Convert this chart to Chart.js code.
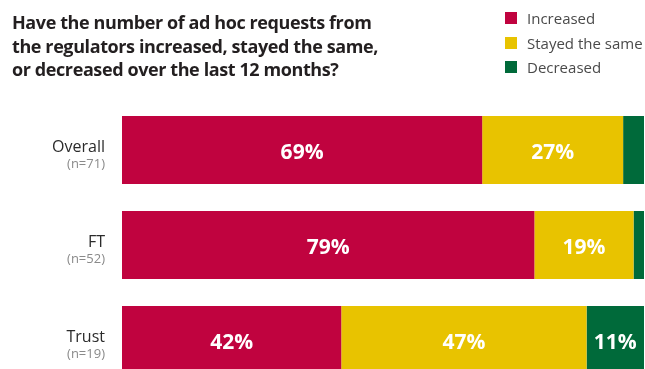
<!DOCTYPE html>
<html>
<head>
<meta charset="utf-8">
<script src="https://cdn.jsdelivr.net/npm/chart.js@4/dist/chart.umd.min.js"></script>
<style>
  html, body { margin: 0; padding: 0; background: #fff; overflow: hidden; }
  #wrap { position: relative; width: 645px; height: 390px; }
  #title {
    position: absolute; left: 12px; top: 11px;
    font-family: "Open Sans", sans-serif; font-weight: 700;
    font-size: 18px; line-height: 23.5px; color: #231f20;
    letter-spacing: -0.4px; white-space: nowrap;
  }
  #legend { position: absolute; left: 505px; top: 6px; font-family: "Open Sans", sans-serif; }
  #legend .item { display: flex; align-items: center; height: 24.5px; font-size: 15px; color: #4a4a4a; }
  #legend .sw { width: 12px; height: 12px; margin-right: 10px; }
  #chartBox { position: absolute; left: 0; top: 0; width: 645px; height: 390px; }
</style>
</head>
<body>
<div id="wrap">
  <div id="chartBox"><canvas id="chart"></canvas></div>
  <div id="title">Have the number of ad hoc requests from<br>the regulators increased, stayed the same,<br>or decreased over the last 12 months?</div>
  <div id="legend"></div>
</div>
<script>
const categories = ["Overall", "FT", "Trust"];
const sampleSizes = ["(n=71)", "(n=52)", "(n=19)"];
const increased = [69, 79, 42];
const stayedSame = [27, 19, 47];
const decreased = [4, 2, 11];
const seriesNames = ["Increased", "Stayed the same", "Decreased"];
const seriesColors = ["#c0033f", "#e8c300", "#006a3a"];

const legend = document.getElementById("legend");
seriesNames.forEach((name, i) => {
  const row = document.createElement("div");
  row.className = "item";
  row.innerHTML = '<span class="sw" style="background:' + seriesColors[i] + '"></span>' + name;
  legend.appendChild(row);
});

const labelPlugin = {
  id: "barLabels",
  afterDatasetsDraw(chart) {
    const ctx = chart.ctx;
    ctx.save();
    ctx.fillStyle = "#fff";
    ctx.font = "700 21px 'Open Sans', sans-serif";
    ctx.textAlign = "center";
    ctx.textBaseline = "middle";
    chart.data.datasets.forEach((ds, di) => {
      chart.getDatasetMeta(di).data.forEach((bar, i) => {
        const v = ds.data[i];
        if (v < 10) return;
        ctx.fillText(v + "%", (bar.x + bar.base) / 2, bar.y + 3);
      });
    });

    // category labels on the left
    const yScale = chart.scales.y;
    ctx.textAlign = "right";
    ctx.textBaseline = "alphabetic";
    categories.forEach((c, i) => {
      const y = yScale.getPixelForValue(i);
      ctx.fillStyle = "#2b2b2b";
      ctx.font = "16px 'Open Sans', sans-serif";
      ctx.fillText(c, 105, y + 2);
      ctx.fillStyle = "#8a8a8a";
      ctx.font = "13px 'Open Sans', sans-serif";
      ctx.fillText(sampleSizes[i], 105, y + 18);
    });
    ctx.restore();
  }
};

new Chart(document.getElementById("chart"), {
  type: "bar",
  data: {
    labels: categories,
    datasets: [
      { label: seriesNames[0], data: increased, backgroundColor: seriesColors[0] },
      { label: seriesNames[1], data: stayedSame, backgroundColor: seriesColors[1] },
      { label: seriesNames[2], data: decreased, backgroundColor: seriesColors[2] }
    ]
  },
  options: {
    indexAxis: "y",
    responsive: true,
    maintainAspectRatio: false,
    animation: false,
    layout: { padding: { left: 122, right: 1, top: 102.5, bottom: 2.5 } },
    datasets: { bar: { barPercentage: 0.716, categoryPercentage: 1, borderWidth: 0 } },
    scales: {
      x: { stacked: true, min: 0, max: 100, display: false },
      y: { stacked: true, display: false }
    },
    plugins: { legend: { display: false }, tooltip: { enabled: false } }
  },
  plugins: [labelPlugin]
});
</script>
</body>
</html>
